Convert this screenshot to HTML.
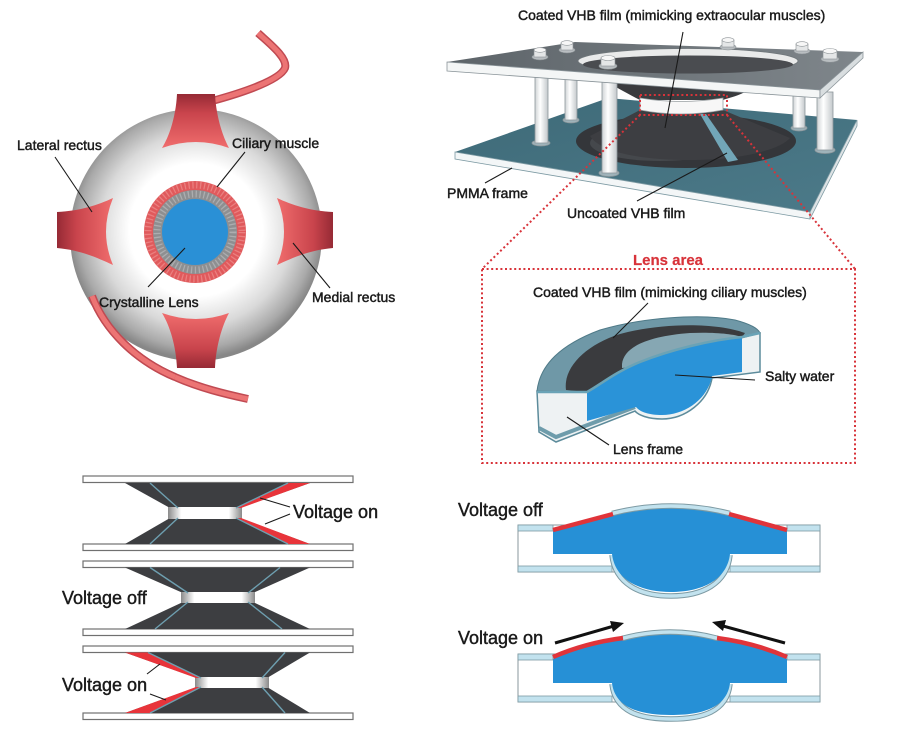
<!DOCTYPE html>
<html><head><meta charset="utf-8">
<style>
html,body{margin:0;padding:0;background:#fff;}
svg{display:block;}
text{font-family:"Liberation Sans",Arial,sans-serif;fill:#1a1a1a;stroke:#1a1a1a;stroke-width:0.45;}
</style></head><body>
<svg width="900" height="743" viewBox="0 0 900 743" xmlns="http://www.w3.org/2000/svg">
<defs>
<radialGradient id="sph" cx="196" cy="230" r="128" gradientUnits="userSpaceOnUse">
<stop offset="0" stop-color="#ffffff"/><stop offset="0.52" stop-color="#ffffff"/><stop offset="0.75" stop-color="#d9d9d9"/><stop offset="0.92" stop-color="#a9a9a9"/><stop offset="1" stop-color="#878787"/>
</radialGradient>
<linearGradient id="mT" x1="0" y1="0" x2="0" y2="1"><stop offset="0" stop-color="#962a35"/><stop offset="0.35" stop-color="#c9444c"/><stop offset="1" stop-color="#f06d6d"/></linearGradient>
<linearGradient id="mB" x1="0" y1="1" x2="0" y2="0"><stop offset="0" stop-color="#962a35"/><stop offset="0.35" stop-color="#c9444c"/><stop offset="1" stop-color="#f06d6d"/></linearGradient>
<linearGradient id="mL" x1="0" y1="0" x2="1" y2="0"><stop offset="0" stop-color="#962a35"/><stop offset="0.35" stop-color="#c9444c"/><stop offset="1" stop-color="#f06d6d"/></linearGradient>
<linearGradient id="mR" x1="1" y1="0" x2="0" y2="0"><stop offset="0" stop-color="#962a35"/><stop offset="0.35" stop-color="#c9444c"/><stop offset="1" stop-color="#f06d6d"/></linearGradient>
<linearGradient id="neck" x1="0" y1="0" x2="1" y2="0"><stop offset="0" stop-color="#8a8a8a"/><stop offset="0.18" stop-color="#ffffff"/><stop offset="0.82" stop-color="#ffffff"/><stop offset="1" stop-color="#8a8a8a"/></linearGradient>
<linearGradient id="topface" x1="0" y1="0" x2="1" y2="0"><stop offset="0" stop-color="#5d6469"/><stop offset="1" stop-color="#7f868b"/></linearGradient>
<linearGradient id="teal" x1="0" y1="0" x2="1" y2="1"><stop offset="0" stop-color="#3e6a78"/><stop offset="1" stop-color="#4c7a89"/></linearGradient>
<linearGradient id="post" x1="0" y1="0" x2="1" y2="0"><stop offset="0" stop-color="#cfd3d5"/><stop offset="0.4" stop-color="#ffffff"/><stop offset="1" stop-color="#c3c8cb"/></linearGradient>
</defs>

<!-- ================= EYE ================= -->
<path d="M92,296 C105,330 135,360 175,377 C200,388 225,394 248,399" fill="none" stroke="#c04a52" stroke-width="8"/>
<path d="M92,296 C105,330 135,360 175,377 C200,388 225,394 248,399" fill="none" stroke="#ec7474" stroke-width="5"/>
<circle cx="196" cy="235" r="126" fill="url(#sph)"/>
<path d="M92,296 C105,330 135,360 175,377" fill="none" stroke="#c04a52" stroke-width="8"/>
<path d="M92,296 C105,330 135,360 175,377" fill="none" stroke="#ec7474" stroke-width="5"/>
<path d="M212,101 C245,92 280,80 285,68 C288,58 270,44 258,33" fill="none" stroke="#c04a52" stroke-width="8"/>
<path d="M212,101 C245,92 280,80 285,68 C288,58 270,44 258,33" fill="none" stroke="#ec7474" stroke-width="5"/>
<path d="M177,94 L215,94 C216,115 222,135 229,148 Q196,136 162,148 C170,135 176,115 177,94 Z" fill="url(#mT)"/>
<path d="M162,313 Q196,325 229,313 C222,326 216,346 215,368 L177,368 C176,346 170,326 162,313 Z" fill="url(#mB)"/>
<path d="M57,212 L57,248 C80,250 98,258 113,265 Q99,232 113,198 C98,205 80,211 57,212 Z" fill="url(#mL)"/>
<path d="M333,212 L333,248 C310,250 292,258 277,265 Q291,232 277,198 C292,205 310,211 333,212 Z" fill="url(#mR)"/>
<circle cx="195" cy="232" r="51" fill="#e05a5c"/>
<circle cx="195" cy="232" r="47" fill="none" stroke="#ea7f7f" stroke-width="7" stroke-dasharray="1.3 2.6"/>
<circle cx="195" cy="232" r="42" fill="#8e8f91"/>
<circle cx="195" cy="232" r="38" fill="none" stroke="#acadaf" stroke-width="7" stroke-dasharray="1.3 2.6"/>
<circle cx="195" cy="232" r="33" fill="#2a90d6"/>
<g stroke="#1a1a1a" stroke-width="1.1">
<line x1="55" y1="157" x2="92" y2="212"/>
<line x1="245" y1="152" x2="217" y2="187"/>
<line x1="148" y1="287" x2="185" y2="248"/>
<line x1="293" y1="243" x2="330" y2="288"/>
</g>
<text x="17" y="150" font-size="14">Lateral rectus</text>
<text x="232" y="148" font-size="14">Ciliary muscle</text>
<text x="99" y="307" font-size="14">Crystalline Lens</text>
<text x="312" y="302" font-size="14">Medial rectus</text>

<!-- ================= APPARATUS ================= -->
<polygon points="455,152 608,98 857,120 810,212" fill="url(#teal)"/>
<polygon points="455,152 810,212 810,219 455,159" fill="#f3f6f7" stroke="#7d9aa3" stroke-width="0.8"/>
<polygon points="810,212 857,120 857,126 810,219" fill="#dde3e5" stroke="#7d9aa3" stroke-width="0.8"/>
<ellipse cx="686" cy="141" rx="110" ry="27" fill="#34363a"/>
<ellipse cx="660" cy="143" rx="70" ry="18" fill="#45484c"/>
<path d="M640,110 L590,136 C600,152 640,160 690,160 C740,160 780,150 790,138 L723,110 Z" fill="#3d3e42"/>
<path d="M600,75 L760,80 L745,92 C735,97 728,98 723,100 L640,100 C628,94 614,86 600,78 Z" fill="#3a3b3e"/>
<path d="M640,98 Q681,105 723,98 L723,110 Q681,118 640,110 Z" fill="#f7f7f7" stroke="#9aa0a3" stroke-width="0.8"/>
<polygon points="700,114 706,114 738,160 728,162" fill="#72a6b8"/>
<g stroke="#8d979b" stroke-width="0.8">
<ellipse cx="541" cy="143" rx="9" ry="3" fill="#9fb3ba"/>
<rect x="535" y="72" width="13" height="71" fill="url(#post)"/>
<ellipse cx="571" cy="120" rx="8" ry="3" fill="#9fb3ba"/>
<rect x="565" y="72" width="12" height="48" fill="url(#post)"/>
<ellipse cx="799" cy="128" rx="8" ry="3" fill="#9fb3ba"/>
<rect x="793" y="88" width="12" height="40" fill="url(#post)"/>
<ellipse cx="825" cy="150" rx="10" ry="3.5" fill="#9fb3ba"/>
<rect x="817" y="92" width="16" height="58" fill="url(#post)"/>
<ellipse cx="609" cy="173" rx="10" ry="3.5" fill="#9fb3ba"/>
<rect x="602" y="70" width="15" height="103" fill="url(#post)"/>
</g>
<polygon points="447,62 575,42 863,52 820,90" fill="url(#topface)"/>
<polygon points="447,62 820,90 820,98 447,71" fill="#f4f6f6" stroke="#8a9499" stroke-width="0.8"/>
<polygon points="820,90 863,52 863,58 820,98" fill="#d9dee0" stroke="#8a9499" stroke-width="0.8"/>
<ellipse cx="688" cy="61" rx="110" ry="12.5" fill="#e9eaea" stroke="#6f767a" stroke-width="0.8"/>
<ellipse cx="688" cy="64.5" rx="105" ry="9" fill="#4a4c50"/>
<g stroke="#8a9094" stroke-width="0.6">
<ellipse cx="540" cy="57" rx="8" ry="3" fill="#b9bec1"/><rect x="534" y="50" width="12" height="7" fill="#e4e6e7"/><ellipse cx="540" cy="50" rx="6" ry="2.3" fill="#f7f7f7"/>
<ellipse cx="567" cy="50" rx="8" ry="3" fill="#b9bec1"/><rect x="561" y="43" width="12" height="7" fill="#e4e6e7"/><ellipse cx="567" cy="43" rx="6" ry="2.3" fill="#f7f7f7"/>
<ellipse cx="608" cy="66" rx="9" ry="3.3" fill="#b9bec1"/><rect x="601" y="58" width="14" height="8" fill="#e4e6e7"/><ellipse cx="608" cy="58" rx="7" ry="2.5" fill="#f7f7f7"/>
<ellipse cx="728" cy="47" rx="8" ry="3" fill="#b9bec1"/><rect x="722" y="40" width="12" height="7" fill="#e4e6e7"/><ellipse cx="728" cy="40" rx="6" ry="2.3" fill="#f7f7f7"/>
<ellipse cx="802" cy="51" rx="8" ry="3" fill="#b9bec1"/><rect x="796" y="44" width="12" height="7" fill="#e4e6e7"/><ellipse cx="802" cy="44" rx="6" ry="2.3" fill="#f7f7f7"/>
<ellipse cx="830" cy="59" rx="9" ry="3.3" fill="#b9bec1"/><rect x="823" y="51" width="14" height="8" fill="#e4e6e7"/><ellipse cx="830" cy="51" rx="7" ry="2.5" fill="#f7f7f7"/>
</g>
<g fill="none" stroke="#d8333a" stroke-width="2" stroke-dasharray="2 2.6">
<rect x="640" y="95" width="87" height="20"/>
<line x1="640" y1="115" x2="482" y2="269"/>
<line x1="727" y1="115" x2="855" y2="269"/>
<rect x="482" y="269" width="373" height="194"/>
</g>
<g stroke="#1a1a1a" stroke-width="1.1">
<line x1="683" y1="32" x2="665" y2="128"/>
<line x1="485" y1="183" x2="512" y2="168"/>
<line x1="637" y1="201" x2="727" y2="153"/>
</g>
<text x="518" y="20" font-size="14">Coated VHB film (mimicking extraocular muscles)</text>
<text x="447" y="198" font-size="14">PMMA frame</text>
<text x="567" y="218" font-size="14">Uncoated VHB film</text>

<!-- ================= LENS AREA ================= -->
<text x="668" y="265" font-size="15" font-weight="bold" text-anchor="middle" style="fill:#d8333a;stroke:#d8333a;stroke-width:0.2">Lens area</text>
<text x="533" y="297" font-size="14">Coated VHB film (mimicking ciliary muscles)</text>
<path d="M537,391 L760,333 L760,372 L712,378 C708,402 685,419 662,419 C648,419 638,415 635,411 L556,442 L539,432 Z" fill="#eef2f3" stroke="#5c8b9b" stroke-width="1.5"/>
<path d="M539,428 L556,437 L635,407" fill="none" stroke="#6e9cab" stroke-width="4"/>
<path d="M537,391 C540,365 560,345 600,330 C640,318 700,313 735,320 C750,324 758,328 760,333 L742,337 C710,340 670,350 640,362 C615,372 600,385 587,392 Z" fill="#6f98a7" stroke="#4f7a88" stroke-width="1"/>
<path d="M566,390 C563,368 585,345 620,334 C660,323 715,322 745,333 L742,337 C710,340 670,350 640,362 C615,372 600,385 587,392 Z" fill="#3a3b3e"/>
<path d="M622,364 C624,346 650,336 690,333 C715,332 733,334 742,337 C710,340 670,350 640,362 C632,366 626,368 622,368 Z" fill="#86a7b3"/>
<path d="M587,392 C600,385 615,372 640,362 C670,350 710,340 742,337 L742,372 L712,376 C708,399 685,415 662,415 C649,415 640,412 636,407 L587,421 Z" fill="#2a93d8"/>
<path d="M537,392 L587,392 C600,385 615,372 640,362 C670,350 710,340 742,337 L760,333" fill="none" stroke="#6aa3b6" stroke-width="2.5"/>
<g stroke="#1a1a1a" stroke-width="1.1">
<line x1="648" y1="303" x2="613" y2="338"/>
<line x1="675" y1="375" x2="755" y2="380"/>
<line x1="567" y1="417" x2="609" y2="445"/>
</g>
<text x="765" y="381" font-size="14">Salty water</text>
<text x="613" y="454" font-size="14">Lens frame</text>

<!-- ================= HOURGLASSES ================= -->
<g fill="#ffffff" stroke="#707070" stroke-width="1.2">
<rect x="83" y="476" width="270" height="6.5"/>
<rect x="83" y="544" width="270" height="6.5"/>
<rect x="83" y="561" width="270" height="6.5"/>
<rect x="83" y="629" width="270" height="6.5"/>
<rect x="83" y="646" width="270" height="6.5"/>
<rect x="83" y="713" width="270" height="6.5"/>
</g>
<g fill="#3d3e41">
<path d="M125,483 L310,483 L240,508 L170,508 Z"/>
<path d="M170,518 L240,518 L310,544 L125,544 Z"/>
<path d="M125,567.5 L310,567.5 L253,593 L183,593 Z"/>
<path d="M183,602 L253,602 L310,629 L125,629 Z"/>
<path d="M125,652.5 L310,652.5 L267,678 L197,678 Z"/>
<path d="M197,687 L267,687 L310,713 L125,713 Z"/>
</g>
<g fill="url(#neck)">
<rect x="168" y="507" width="74" height="12"/>
<rect x="181" y="592" width="74" height="11"/>
<rect x="195" y="677" width="74" height="11"/>
</g>
<g fill="#e8343a">
<polygon points="310,483 288,483 236,508 241,508"/>
<polygon points="241,518 236,518 288,544 310,544"/>
<polygon points="125,652.5 148,652.5 201,678 196,678"/>
<polygon points="196,687 201,687 150,713 125,713"/>
</g>
<g stroke="#6e9fb0" stroke-width="1.4" fill="none">
<line x1="150" y1="483" x2="178" y2="508"/>
<line x1="178" y1="518" x2="150" y2="544"/>
<line x1="288" y1="483" x2="236" y2="508"/>
<line x1="236" y1="518" x2="288" y2="544"/>
<line x1="150" y1="567.5" x2="188" y2="593"/>
<line x1="280" y1="567.5" x2="248" y2="593"/>
<line x1="188" y1="602" x2="155" y2="629"/>
<line x1="248" y1="602" x2="282" y2="629"/>
<line x1="148" y1="652.5" x2="201" y2="678"/>
<line x1="201" y1="687" x2="150" y2="713"/>
<line x1="285" y1="652.5" x2="262" y2="678"/>
<line x1="262" y1="687" x2="285" y2="713"/>
</g>
<g stroke="#1a1a1a" stroke-width="1.1">
<line x1="290" y1="507" x2="260" y2="498"/>
<line x1="290" y1="514" x2="265" y2="524"/>
<line x1="147" y1="674" x2="160" y2="664"/>
<line x1="150" y1="694" x2="166" y2="700"/>
</g>
<text x="293" y="518" font-size="18">Voltage on</text>
<text x="62" y="604" font-size="18">Voltage off</text>
<text x="62" y="691" font-size="18">Voltage on</text>

<!-- ================= LENS CROSS SECTIONS ================= -->
<text x="458" y="516" font-size="18">Voltage off</text>
<text x="458" y="644" font-size="18">Voltage on</text>
<rect x="518" y="525" width="302" height="47" fill="#ffffff" stroke="#8a979c" stroke-width="1"/>
<g fill="#c2e2ee" stroke="#7d9aa3" stroke-width="0.8">
<rect x="518" y="525" width="35" height="6"/>
<rect x="787" y="525" width="33" height="6"/>
<rect x="518" y="566" width="94" height="6"/>
<rect x="730" y="566" width="90" height="6"/>
</g>
<path d="M612,555 C615,584 640,596 671,596 C702,596 727,584 730,555" fill="none" stroke="#7d9aa3" stroke-width="5.5"/>
<path d="M612,555 C615,584 640,596 671,596 C702,596 727,584 730,555" fill="none" stroke="#c2e2ee" stroke-width="3.5"/>
<path d="M553,531 L612,515 Q671,500 730,515 L787,531 L787,554 L730,554 C727,580 702,592 671,592 C640,592 615,580 612,554 L553,554 Z" fill="#2690d6"/>
<path d="M612,513.5 Q671,498.5 730,513.5" fill="none" stroke="#7d9aa3" stroke-width="5.5"/>
<path d="M612,513.5 Q671,498.5 730,513.5" fill="none" stroke="#c2e2ee" stroke-width="3.5"/>
<g stroke="#e0343a" stroke-width="4.5" fill="none">
<line x1="553" y1="530" x2="613" y2="514"/>
<line x1="729" y1="514" x2="787" y2="530"/>
</g>
<rect x="518" y="654" width="302" height="48" fill="#ffffff" stroke="#8a979c" stroke-width="1"/>
<g fill="#c2e2ee" stroke="#7d9aa3" stroke-width="0.8">
<rect x="518" y="654" width="35" height="6"/>
<rect x="787" y="654" width="33" height="6"/>
<rect x="518" y="696" width="94" height="6"/>
<rect x="730" y="696" width="90" height="6"/>
</g>
<path d="M612,684 C615,712 640,719 671,719 C702,719 727,712 730,684" fill="none" stroke="#7d9aa3" stroke-width="5.5"/>
<path d="M612,684 C615,712 640,719 671,719 C702,719 727,712 730,684" fill="none" stroke="#c2e2ee" stroke-width="3.5"/>
<path d="M553,659 Q585,645 622,640 Q670,627 718,640 Q755,645 787,659 L787,683 L730,683 C727,708 702,715 671,715 C640,715 615,708 612,683 L553,683 Z" fill="#2690d6"/>
<path d="M622,638.5 Q670,625.5 718,638.5" fill="none" stroke="#7d9aa3" stroke-width="5.5"/>
<path d="M622,638.5 Q670,625.5 718,638.5" fill="none" stroke="#c2e2ee" stroke-width="3.5"/>
<g stroke="#e0343a" stroke-width="4.5" fill="none">
<path d="M553,657 Q585,643 623,638"/>
<path d="M717,638 Q755,643 787,657"/>
</g>
<g stroke="#111" stroke-width="3">
<line x1="555" y1="643" x2="614" y2="626"/>
<line x1="785" y1="643" x2="723" y2="626"/>
</g>
<polygon points="624,623 613,632 610,621" fill="#111"/>
<polygon points="712,622 726,620 723,631" fill="#111"/>
</svg>
</body></html>
